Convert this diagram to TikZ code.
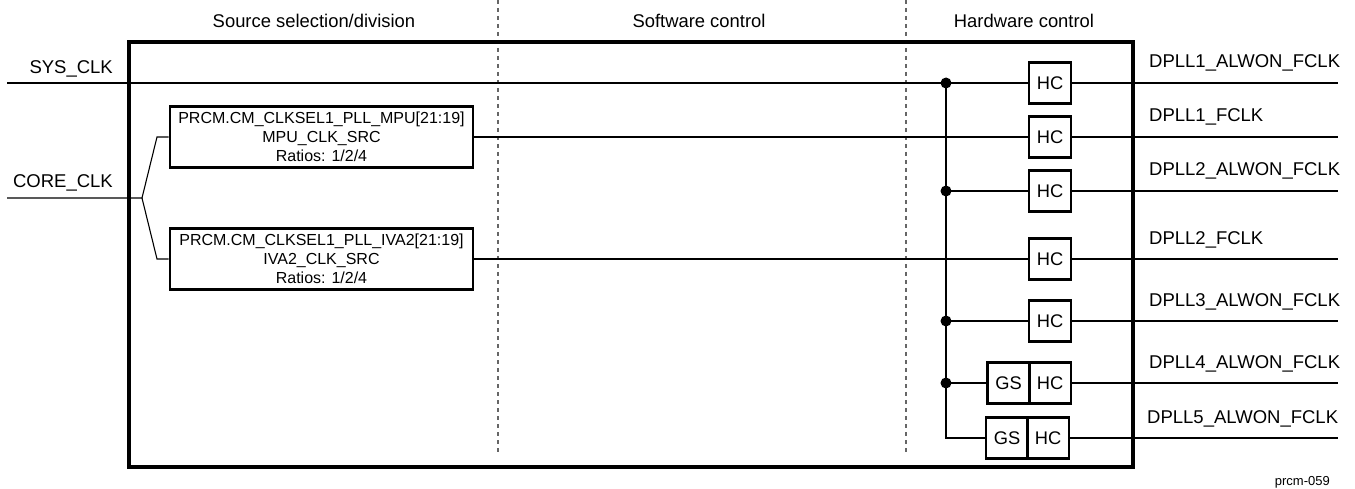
\documentclass[tikz,border=0pt]{standalone}
\usepackage{fontspec}
\setmainfont{Liberation Sans}
\begin{document}
\begin{tikzpicture}[x=1pt,y=-1pt,
  wire/.style={line width=1.1pt},
  hcbox/.style={draw, line width=2.4pt, minimum width=42pt, minimum height=41pt, inner sep=0pt, font=\fontsize{18.3}{20}\selectfont},
  selbox/.style={draw, line width=2.6pt, minimum width=303pt, minimum height=61pt, align=center, inner sep=0pt, font=\fontsize{16}{19}\selectfont},
  lbl/.style={font=\fontsize{18.5}{20}\selectfont, inner sep=0pt},
  hdr/.style={font=\fontsize{18.4}{20}\selectfont, inner sep=0pt, anchor=base},
  sepline/.style={draw=black!60, line width=1.3pt, dash pattern=on 4pt off 4pt},
  dot/.style={circle, fill, inner sep=0pt, minimum size=11pt}]
\useasboundingbox (0,0) rectangle (1355,489);

% column separators
\coordinate (s1t) at (498,0);   \coordinate (s1b) at (498,454);
\coordinate (s2t) at (906,0);   \coordinate (s2b) at (906,454);
\draw[sepline] (s1t) -- (s1b);
\draw[sepline] (s2t) -- (s2b);

% headers
\node[hdr] (h1) at (314,28) {Source selection/division};
\node[hdr] (h2) at (699,28) {Software control};
\node[hdr] (h3) at (1024,28) {Hardware control};

% frame
\node[draw, line width=4.5pt, minimum width=1004pt, minimum height=425pt, inner sep=0pt] (frame) at (631,254.5) {};

% selection boxes
\node[selbox] (mpu) at (321.5,137) {PRCM.CM\_CLKSEL1\_PLL\_MPU[21:19]\\MPU\_CLK\_SRC\\Ratios: 1/2/4};
\node[selbox] (iva) at (321.5,259) {PRCM.CM\_CLKSEL1\_PLL\_IVA2[21:19]\\IVA2\_CLK\_SRC\\Ratios: 1/2/4};

% HC / GS boxes
\node[hcbox] (hc1) at (1050,83) {HC};
\node[hcbox] (hc2) at (1050,137) {HC};
\node[hcbox] (hc3) at (1050,191) {HC};
\node[hcbox] (hc4) at (1050,259) {HC};
\node[hcbox] (hc5) at (1050,321) {HC};
\node[hcbox] (hc6) at (1050,383) {HC};
\node[hcbox] (gs6) at (1008.5,383) {GS};
\node[hcbox] (hc7) at (1048,438) {HC};
\node[hcbox] (gs7) at (1007,438) {GS};

% inputs
\coordinate (sysin) at (7,83);
\coordinate (corein) at (7,198);
\coordinate (br) at (142,198);
\coordinate (bu) at (157,137);
\coordinate (bd) at (157,259);
\node[lbl, anchor=base east] (syslbl) at (113,74) {SYS\_CLK};
\node[lbl, anchor=base east] (corelbl) at (113,188) {CORE\_CLK};

\draw[wire] (sysin) -- (hc1.west);
\draw[wire] (corein) -- (br) -- (bu) -- (mpu.west);
\draw[wire] (br) -- (bd) -- (iva.west);
\draw[wire] (mpu.east) -- (hc2.west);
\draw[wire] (iva.east) -- (hc4.west);

% bus
\node[dot] (d1) at (946,83) {};
\node[dot] (d3) at (946,191) {};
\node[dot] (d5) at (946,321) {};
\node[dot] (d6) at (946,383) {};
\coordinate (bend) at (946,438);
\draw[wire] (d1.center) -- (bend) -- (gs7.west);
\draw[wire] (d3.center) -- (hc3.west);
\draw[wire] (d5.center) -- (hc5.west);
\draw[wire] (d6.center) -- (gs6.west);

% outputs
\coordinate (o1) at (1338,83);
\coordinate (o2) at (1338,137);
\coordinate (o3) at (1338,191);
\coordinate (o4) at (1338,259);
\coordinate (o5) at (1338,321);
\coordinate (o6) at (1338,383);
\coordinate (o7) at (1338,438);
\draw[wire] (hc1.east) -- (o1);
\draw[wire] (hc2.east) -- (o2);
\draw[wire] (hc3.east) -- (o3);
\draw[wire] (hc4.east) -- (o4);
\draw[wire] (hc5.east) -- (o5);
\draw[wire] (hc6.east) -- (o6);
\draw[wire] (hc7.east) -- (o7);

\node[lbl, anchor=base west] (l1) at (1149,68) {DPLL1\_ALWON\_FCLK};
\node[lbl, anchor=base west] (l2) at (1149,122) {DPLL1\_FCLK};
\node[lbl, anchor=base west] (l3) at (1149,176) {DPLL2\_ALWON\_FCLK};
\node[lbl, anchor=base west] (l4) at (1149,244) {DPLL2\_FCLK};
\node[lbl, anchor=base west] (l5) at (1149,306) {DPLL3\_ALWON\_FCLK};
\node[lbl, anchor=base west] (l6) at (1149,368) {DPLL4\_ALWON\_FCLK};
\node[lbl, anchor=base west] (l7) at (1147,423) {DPLL5\_ALWON\_FCLK};

\node[font=\fontsize{13}{15}\selectfont, inner sep=0pt, anchor=base east] (tag) at (1330,485) {prcm-059};
\end{tikzpicture}
\end{document}
